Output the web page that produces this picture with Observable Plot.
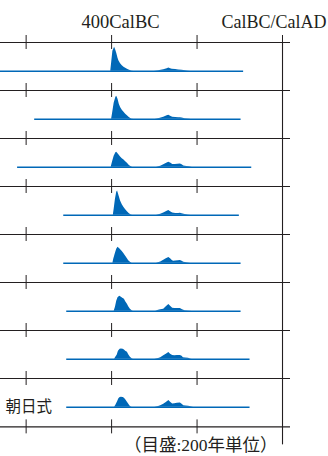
<!DOCTYPE html>
<html><head><meta charset="utf-8">
<script src="https://cdn.jsdelivr.net/npm/d3@7"></script>
<script src="https://cdn.jsdelivr.net/npm/@observablehq/plot@0.6"></script>
<style>html,body{margin:0;padding:0;background:#fff} svg{display:block}</style>
</head><body><div id="chart"></div>
<script>
// ---- data ----
const panels = [1, 2, 3, 4, 5, 6, 7, 8];
const panelLabels = ["", "", "", "", "", "", "", "朝日式"];
// extent of each calibration baseline (calendar years, BC negative)
const rangeStart = [-660, -580, -620, -512, -512, -505, -505, -505];
const rangeEnd = [-91, -97, -72, -101, -97, -97, -76, -76];
// probability distributions [year, relative probability]
const density1 = [[-402,0],[-400,8],[-397,20],[-393,24],[-391,22],[-388,18],[-385,13],[-383,10.5],[-379,7.5],[-375,5.5],[-371,4],[-367,3],[-363,2],[-358,1],[-353,0.3],[-348,0],[-300,0],[-290,0.5],[-278,1.5],[-270,2.5],[-266,3.3],[-262,2.5],[-258,2],[-250,1.6],[-243,1.3],[-235,1],[-231,0.7],[-222,0.3],[-215,0]];
const density2 = [[-400,0],[-398,5],[-394,16],[-390,22],[-388,23],[-385,20],[-382,15],[-379,11.7],[-375,9],[-371,7],[-367,5],[-363,3.5],[-358,1.5],[-353,0.3],[-348,0],[-298,0],[-288,0.7],[-278,2],[-270,3.5],[-266,4],[-262,3],[-257,2],[-250,1.6],[-243,1.5],[-239,1.5],[-235,1.2],[-228,0.5],[-220,0.2],[-213,0]];
const density3 = [[-401,0],[-398,5],[-394,11],[-390,14.5],[-388,15],[-384,13],[-379,10.3],[-375,8.5],[-371,7.3],[-367,5.5],[-363,4],[-359,2],[-356,1],[-351,0],[-295,0],[-285,1],[-278,2.5],[-270,4.3],[-266,5],[-261,4],[-257,2.8],[-251,2.8],[-245,3],[-239,3.3],[-235,2.5],[-231,1.2],[-224,0.8],[-218,0.5],[-211,0]];
const density4 = [[-396,0],[-394,6],[-391,16],[-388,23],[-386,24.3],[-383,20],[-379,14.3],[-375,10.5],[-371,7.7],[-367,5.5],[-363,3.5],[-359,1.8],[-355,0.5],[-351,0],[-295,0],[-285,1],[-278,2.3],[-270,4],[-266,4.7],[-262,3.5],[-257,2.2],[-250,1.8],[-243,1.8],[-239,2],[-235,1.5],[-228,0.6],[-220,0.3],[-214,0]];
const density5 = [[-397,0],[-395,4],[-391,10],[-388,14],[-385,16],[-381,14.5],[-375,11.7],[-371,9.5],[-367,7],[-363,4.5],[-360,2.5],[-356,1],[-352,0],[-295,0],[-285,1.2],[-278,3],[-272,4.5],[-266,5.7],[-262,4.5],[-258,2.8],[-255,2],[-250,2.2],[-244,2.5],[-239,2.7],[-235,2],[-231,1],[-224,0.5],[-215,0]];
const density6 = [[-394,0],[-391,4],[-388,10],[-385,13.5],[-381,15],[-377,14],[-373,12.8],[-370,12],[-367,9.5],[-363,7],[-360,4.5],[-356,2],[-352,0.5],[-349,0],[-297,0],[-290,1],[-285,1.5],[-278,2],[-272,4.5],[-266,6.7],[-262,5],[-257,3],[-252,2.6],[-245,2.6],[-239,2.7],[-234,1.5],[-228,0.5],[-220,0.3],[-211,0]];
const density7 = [[-393,0],[-391,1.5],[-387,4],[-384,8],[-380,10],[-377,10.3],[-373,10],[-370,9.3],[-367,8],[-363,7],[-360,4.5],[-356,2],[-352,0.5],[-349,0],[-299,0],[-290,0.7],[-285,1.5],[-278,3.5],[-272,5],[-266,6.7],[-262,5],[-257,3.7],[-252,3.5],[-246,3.6],[-239,3.7],[-235,3],[-232,1.5],[-227,1.2],[-220,1],[-215,0.3],[-211,0]];
const density8 = [[-393,0],[-390,2],[-386,5.5],[-383,8.5],[-380,9.7],[-377,10],[-373,9.7],[-370,9],[-367,7.5],[-363,5],[-359,2.5],[-356,0.8],[-352,0],[-299,0],[-290,0.7],[-285,1.5],[-278,3],[-272,4.8],[-266,6.7],[-262,5],[-257,3.3],[-252,3.5],[-246,4],[-239,4.3],[-235,3],[-231,1.5],[-226,1.2],[-220,1],[-214,0.5],[-208,0]];
const tickYears = [-600, -400, -200, 0];
const tickLabel = "400CalBC";
const tickLabelYear = -400;
const boundaryLabel = "CalBC/CalAD";
const boundaryYear = 0;
const caption = "（目盛:200年単位）";

// ---- tables built from the arrays ----
const densities = [density1, density2, density3, density4, density5, density6, density7, density8];
const densityRows = densities.flatMap((d, i) => d.map(([year, p]) => ({panel: panels[i], year, p})));
const panelRows = panels.map((p, i) => ({panel: p, start: rangeStart[i], end: rangeEnd[i], label: panelLabels[i]}));
const firstPanel = panels[0];
const lastPanel = panels[panels.length - 1];

// ---- layout ----
const W = 328, H = 456, mTop = 40, mBottom = 29, mRight = 38;
const yDomain = [-19.7, 28.7];  // relative probability: lower = bottom of row, upper = row separator
const yTop = yDomain[1], yBottom = yDomain[0];
const bandH = (H - mTop - mBottom) / panels.length;
const blue = "#0068b7", ink = "#231f20";
const serif = "'Liberation Serif', 'DejaVu Serif', serif";
const cjk = "'Liberation Serif', 'Noto Sans CJK JP', sans-serif";

const plot = Plot.plot({
  width: W, height: H,
  marginTop: mTop, marginBottom: mBottom, marginLeft: 0, marginRight: mRight,
  style: {background: "#fff", overflow: "visible"},
  x: {domain: [-660, 18.7], range: [0, W - mRight], axis: null},
  y: {domain: yDomain, range: [mTop + bandH, mTop], axis: null},
  fy: {domain: panels, range: [mTop, H - mBottom], padding: 0, axis: null},
  marks: [
    // distributions
    Plot.areaY(densityRows, {fy: "panel", x: "year", y: "p", z: "panel", fill: blue, curve: "linear"}),
    Plot.ruleY(panelRows, {fy: "panel", y: () => 0, x1: "start", x2: "end", stroke: blue, strokeWidth: 1.6}),
    // row separators and 200-year ticks
    Plot.ruleY([yTop], {stroke: ink, strokeWidth: 1.1}),
    Plot.ruleY([lastPanel], {fy: d => d, y: () => yBottom, stroke: ink, strokeWidth: 1.1}),
    Plot.ruleX(tickYears, {y1: yTop - 7, y2: yTop + 7, stroke: ink, strokeWidth: 1}),
    Plot.ruleX(tickYears, {fy: () => lastPanel, y1: yBottom - 7, y2: yBottom + 7, stroke: ink, strokeWidth: 1}),
    // BC/AD boundary line
    Plot.ruleX([boundaryYear], {stroke: ink, strokeWidth: 1.1}),
    Plot.ruleX([boundaryYear], {fy: () => lastPanel, y1: yBottom, y2: yBottom - 18, stroke: ink, strokeWidth: 1.1}),
    // labels
    Plot.text([tickLabel], {fy: () => firstPanel, x: () => tickLabelYear, y: () => yTop, text: d => d,
      textAnchor: "middle", dx: 9, dy: -20, fontSize: 18.5, fontFamily: serif, fill: ink}),
    Plot.text([boundaryLabel], {fy: () => firstPanel, x: () => boundaryYear, y: () => yTop, text: d => d,
      textAnchor: "end", dx: 44, dy: -20, fontSize: 18, fontFamily: serif, fill: ink}),
    Plot.text(panelRows, {fy: "panel", x: () => -660, y: () => 0, text: "label", textAnchor: "start", dx: 5,
      fontSize: 15.5, fontFamily: "'Noto Sans CJK JP', sans-serif", fill: ink}),
    Plot.text([caption], {fy: () => lastPanel, x: () => boundaryYear, y: () => yBottom, text: d => d, textAnchor: "end",
      dx: -5, dy: 18.5, fontSize: 17.5, fontFamily: cjk, fill: ink})
  ]
});
document.getElementById("chart").append(plot);
</script>
</body></html>
